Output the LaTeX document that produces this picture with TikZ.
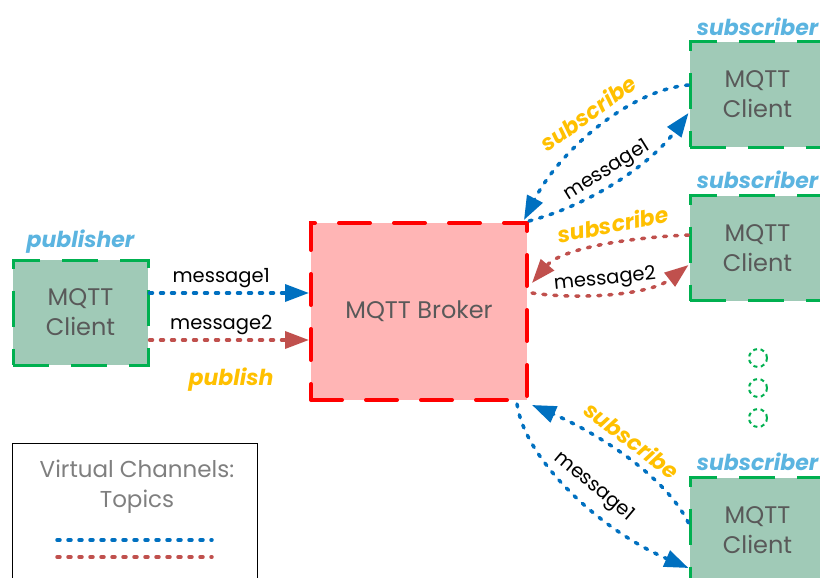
\documentclass[tikz,border=0pt]{standalone}
\usepackage{fontspec}
\setmainfont{Poppins}
\usetikzlibrary{arrows.meta}

\definecolor{clientgreen}{HTML}{00B050}
\definecolor{clientfill}{HTML}{A0CAB7}
\definecolor{boxtext}{HTML}{595959}
\definecolor{brokerfill}{HTML}{FFB5B5}
\definecolor{brokerred}{HTML}{FF0000}
\definecolor{topicblue}{HTML}{0070C0}
\definecolor{topicred}{HTML}{C0504D}
\definecolor{actionyellow}{HTML}{FFC000}
\definecolor{rolelabel}{HTML}{5BB4E0}
\definecolor{legendtext}{HTML}{7F7F7F}

\tikzset{
  client/.style={draw=clientgreen, fill=clientfill, line width=3pt,
    dash pattern=on 36pt off 22pt, minimum width=135pt, minimum height=105pt,
    align=center, text=boxtext, font=\fontsize{24}{30}\selectfont, inner sep=0pt},
  brokerbox/.style={draw=brokerred, fill=brokerfill, line width=4pt, line cap=round,
    dash pattern=on 31pt off 24pt, minimum width=216pt, minimum height=177pt,
    text=boxtext, font=\fontsize{24}{30}\selectfont, inner sep=0pt},
  rolelbl/.style={text=rolelabel, font=\fontsize{22}{24}\selectfont\bfseries\itshape,
    inner sep=0pt, anchor=south},
  actionlbl/.style={text=actionyellow, font=\fontsize{22}{24}\selectfont\bfseries\itshape, inner sep=0pt},
  msglbl/.style={text=black, font=\fontsize{19.5}{22}\selectfont, inner sep=0pt},
  topic/.style={line width=3.5pt, line cap=round, dash pattern=on 3pt off 8pt},
  topicarrow/.style={topic, -{Triangle[length=24pt,width=17pt]}},
  moredots/.style={draw=clientgreen, line width=2pt, dash pattern=on 4pt off 3.5pt},
}

\begin{document}
\begin{tikzpicture}[x=1pt,y=-1pt]
  \clip (0,0) rectangle (820,578);

  % clients and broker
  \node[client] (pub) at (80.5,312.5) {MQTT\\Client};
  \node[brokerbox] (broker) at (419,311.5) {MQTT Broker};
  \node[client] (sub1) at (757.5,94.5) {MQTT\\Client};
  \node[client] (sub2) at (757.5,248) {MQTT\\Client};
  \node[client] (sub3) at (757.5,530) {MQTT\\Client};

  % role captions
  \node[rolelbl] (publbl) at ([yshift=5pt]pub.north) {publisher};
  \node[rolelbl] (sub1lbl) at ([yshift=5pt]sub1.north) {subscriber};
  \node[rolelbl] (sub2lbl) at ([yshift=5pt]sub2.north) {subscriber};
  \node[rolelbl] (sub3lbl) at ([yshift=5pt]sub3.north) {subscriber};

  % further subscribers
  \node[moredots, circle, minimum size=18pt, inner sep=0pt] (dot1) at (758,358) {};
  \node[moredots, circle, minimum size=18pt, inner sep=0pt] (dot2) at (758,388) {};
  \node[moredots, circle, minimum size=18pt, inner sep=0pt] (dot3) at (758,418) {};

  % publishing
  \draw[topicarrow, topicblue] ([yshift=19.5pt]pub.east) -- ([yshift=18.5pt]broker.west)
    node[msglbl, pos=0.45, above=3pt] (pm1) {message1};
  \draw[topicarrow, topicred] ([yshift=-27.5pt]pub.east) -- ([yshift=-28.5pt]broker.west)
    node[msglbl, pos=0.45, above=3pt] (pm2) {message2};
  \node[actionlbl] (publishlbl) at (231,380) {publish};

  % subscriber 1
  \draw[topicarrow, topicblue] ([yshift=9.5pt]sub1.west)
    .. controls (630,90) and (560,150) .. ([xshift=-5pt,yshift=1pt]broker.north east);
  \draw[topicarrow, topicblue] (broker.north east)
    .. controls (590,205) and (650,165) .. ([yshift=-18.5pt]sub1.west);
  \node[actionlbl, rotate=36] (s1sub) at (588,113) {subscribe};
  \node[msglbl, rotate=32] (s1msg) at (607,171) {message1};

  % subscriber 2
  \draw[topicarrow, topicred] ([yshift=13pt]sub2.west)
    .. controls (620,238) and (560,250) .. ([xshift=3pt,yshift=28.5pt]broker.east);
  \draw[topicarrow, topicred] ([xshift=3pt,yshift=18.5pt]broker.east)
    .. controls (580,300) and (650,295) .. ([yshift=-17pt]sub2.west);
  \node[actionlbl, rotate=11] (s2sub) at (613,224) {subscribe};
  \node[msglbl, rotate=6] (s2msg) at (605,280) {message2};

  % subscriber 3
  \draw[topicarrow, topicblue] ([yshift=7pt]sub3.west)
    .. controls (665,475) and (595,432) .. ([xshift=3pt,yshift=-3pt]broker.south east);
  \draw[topicarrow, topicblue] ([xshift=-12pt,yshift=-2pt]broker.south east)
    .. controls (525,460) and (600,530) .. ([yshift=-38pt]sub3.west);
  \node[actionlbl, rotate=-37] (s3sub) at (632,440) {subscribe};
  \node[msglbl, rotate=-40] (s3msg) at (594,487) {message1};

  % legend
  \node[draw=black, line width=1pt, minimum width=245pt, minimum height=150pt,
    anchor=north west, inner sep=0pt] (legend) at (12,443) {};
  \node[text=legendtext, font=\fontsize{23}{30}\selectfont, align=center, anchor=north, inner sep=0pt]
    (legendtitle) at (137,460) {Virtual Channels:\\Topics};
  \coordinate (lb1) at (57,540);
  \coordinate (lb2) at (212,540);
  \coordinate (lr1) at (57,557);
  \coordinate (lr2) at (212,557);
  \draw[topic, topicblue] (lb1) -- (lb2);
  \draw[topic, topicred] (lr1) -- (lr2);
\end{tikzpicture}
\end{document}
